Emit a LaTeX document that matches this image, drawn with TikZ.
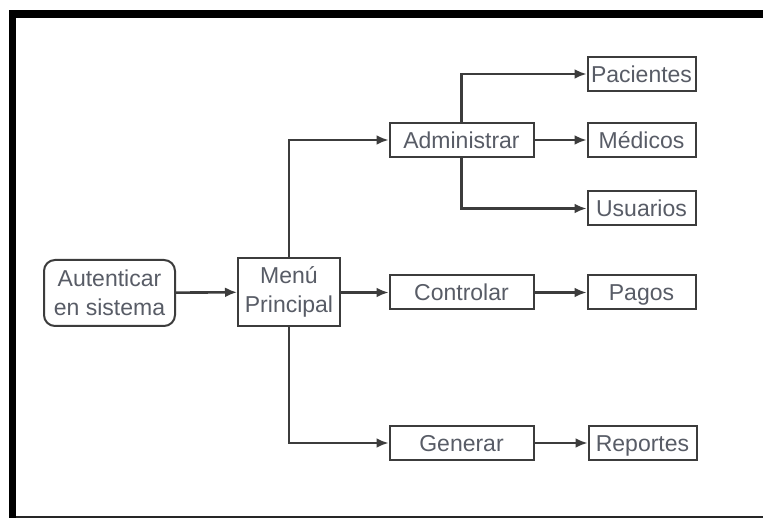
\documentclass[tikz,border=0pt]{standalone}
\usepackage{fontspec}
\setmainfont{Liberation Sans}
\usetikzlibrary{arrows.meta}
\definecolor{txtc}{RGB}{88,92,102}
\definecolor{linec}{RGB}{60,60,60}
\begin{document}
\begin{tikzpicture}[x=1pt,y=-1pt,
  box/.style={draw=linec,line width=2pt,fill=white,inner sep=0pt,text=txtc,
    font=\fontsize{23}{29}\selectfont,align=center},
  onel/.style={box,text height=18.5pt,text depth=2pt},
  midbox/.style={onel,minimum width=144pt,minimum height=34pt},
  rbox/.style={onel,minimum width=108pt,minimum height=34pt},
  conn/.style={draw=linec,line width=2.6pt,-{Latex[length=12pt,width=10pt]}}]
\useasboundingbox (0,0) rectangle (763,518);
\fill[white] (0,0) rectangle (763,518);
% frame
\fill[black] (8.7,10) rectangle (763,18);
\fill[black] (8.7,10) rectangle (16,518);
\fill[black!85] (16,516) rectangle (763,518);
% nodes
\node[box,rounded corners=11pt,minimum width=131pt,minimum height=66pt] (auth) at (109.5,293) {Autenticar\\en sistema};
\node[box,minimum width=102pt,minimum height=68pt] (menu) at (289,292) {Menú\\Principal};
\node[midbox] (adm) at (461.5,140) {Administrar};
\node[midbox] (ctrl) at (461.5,292.5) {Controlar};
\node[midbox] (gen) at (461.5,443) {Generar};
\node[rbox] (pac) at (641.5,74) {Pacientes};
\node[rbox] (med) at (641.5,140) {Médicos};
\node[rbox] (usu) at (641.5,208.5) {Usuarios};
\node[rbox] (pag) at (641.5,292.5) {Pagos};
\node[rbox] (rep) at (642.5,443) {Reportes};
% connectors
\draw[conn] (auth) -- (menu);
\draw[conn] (menu.north) |- (adm.west);
\draw[conn] (menu.east |- ctrl.west) -- (ctrl.west);
\draw[conn] (menu.south) |- (gen.west);
\draw[conn] (adm.north) |- (pac.west);
\draw[conn] (adm) -- (med);
\draw[conn] (adm.south) |- (usu.west);
\draw[conn] (ctrl) -- (pag);
\draw[conn] (gen) -- (rep);
\end{tikzpicture}
\end{document}
